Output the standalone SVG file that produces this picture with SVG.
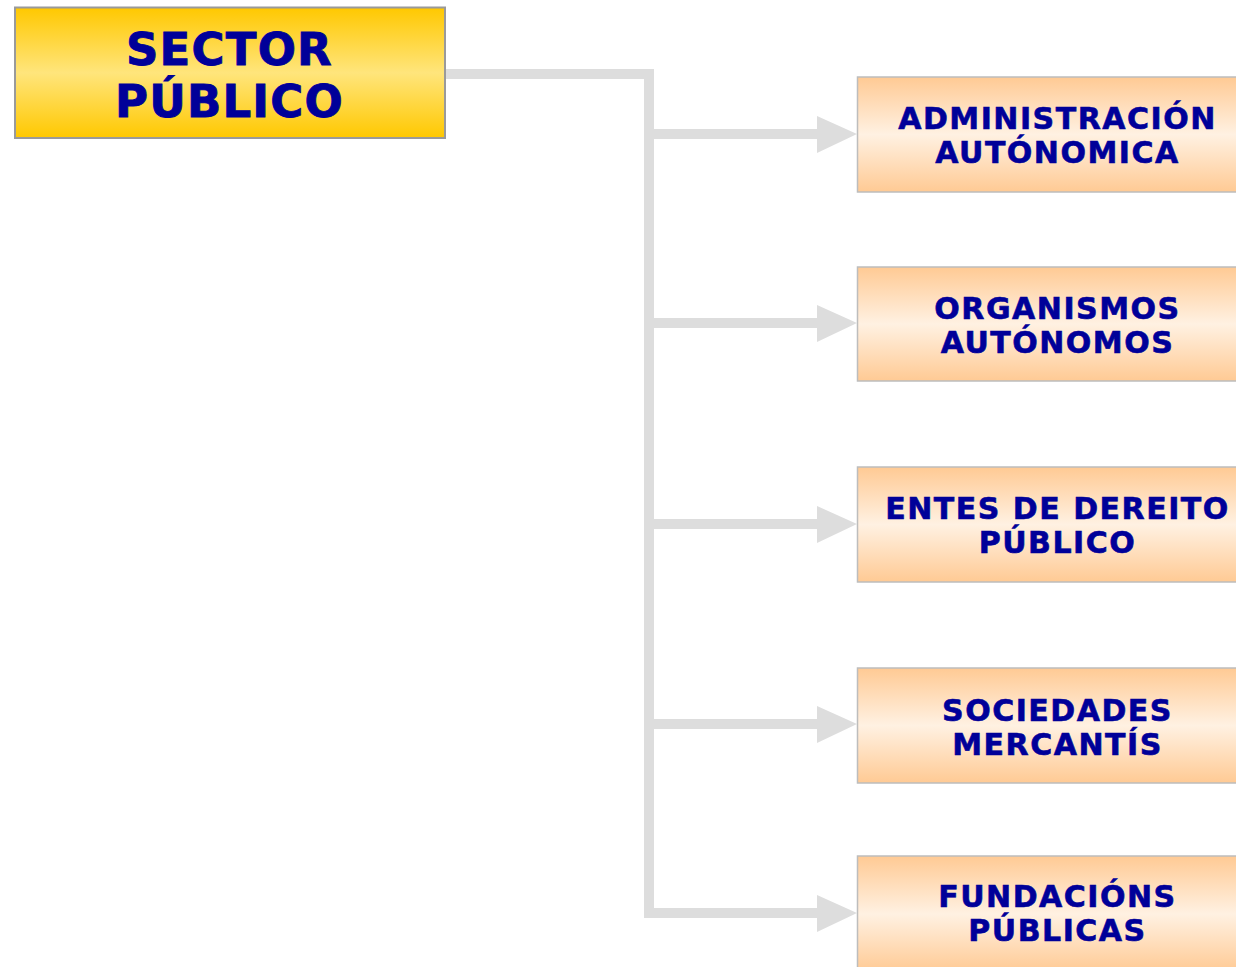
<svg xmlns="http://www.w3.org/2000/svg" width="1236" height="967" viewBox="0 0 1236 967">
  <style>
    .t { font-family: "DejaVu Sans", Verdana, sans-serif; font-weight: bold; fill: #000099; stroke: #000099; stroke-width: 0.6; text-anchor: middle; }
    .big { font-size: 45px; letter-spacing: 1.2px; stroke-width: 0.9; }
    .small { font-size: 30px; letter-spacing: 1.5px; }
    .node { stroke: #bdbdbd; stroke-width: 1.5; fill: url(#peach); }
    .conn { fill: none; stroke: #dddddd; stroke-width: 10; stroke-linejoin: miter; }
    .head { fill: #dddddd; }
  </style>
  <defs>
    <linearGradient id="gold" x1="0" y1="0" x2="0" y2="1">
      <stop offset="0" stop-color="#FFC800"/>
      <stop offset="0.5" stop-color="#FFE57C"/>
      <stop offset="1" stop-color="#FFC800"/>
    </linearGradient>
    <linearGradient id="peach" x1="0" y1="0" x2="0" y2="1">
      <stop offset="0" stop-color="#FFCA94"/>
      <stop offset="0.5" stop-color="#FFF1E2"/>
      <stop offset="1" stop-color="#FFCA94"/>
    </linearGradient>
  </defs>

  <g id="connectors">
    <path class="conn" d="M445 74 H649 V913 H818"/>
    <path class="conn" d="M649 134 H818"/>
    <path class="conn" d="M649 323 H818"/>
    <path class="conn" d="M649 524 H818"/>
    <path class="conn" d="M649 724 H818"/>
    <polygon class="head" points="817,116 857,134 817,153"/>
    <polygon class="head" points="817,305 857,323 817,342"/>
    <polygon class="head" points="817,506 857,524 817,543"/>
    <polygon class="head" points="817,706 857,724 817,743"/>
    <polygon class="head" points="817,895 857,913 817,932"/>
  </g>

  <g id="sector-publico">
    <rect x="15" y="7.5" width="430" height="130.5" fill="url(#gold)" stroke="#9a9a9a" stroke-width="2"/>
    <text class="t big" x="229.5" y="65">SECTOR</text>
    <text class="t big" x="229.5" y="117">PÚBLICO</text>
  </g>

  <g id="administracion-autonomica">
    <rect class="node" x="857.5" y="77" width="400" height="115"/>
    <text class="t small" x="1057.5" y="129">ADMINISTRACIÓN</text>
    <text class="t small" x="1057.5" y="163">AUTÓNOMICA</text>
  </g>

  <g id="organismos-autonomos">
    <rect class="node" x="857.5" y="267" width="400" height="114"/>
    <text class="t small" x="1057.5" y="319">ORGANISMOS</text>
    <text class="t small" x="1057.5" y="353">AUTÓNOMOS</text>
  </g>

  <g id="entes-dereito-publico">
    <rect class="node" x="857.5" y="467" width="400" height="115"/>
    <text class="t small" x="1057.5" y="519">ENTES DE DEREITO</text>
    <text class="t small" x="1057.5" y="553">PÚBLICO</text>
  </g>

  <g id="sociedades-mercantis">
    <rect class="node" x="857.5" y="668" width="400" height="115"/>
    <text class="t small" x="1057.5" y="721">SOCIEDADES</text>
    <text class="t small" x="1057.5" y="755">MERCANTÍS</text>
  </g>

  <g id="fundacions-publicas">
    <rect class="node" x="857.5" y="856" width="400" height="116"/>
    <text class="t small" x="1057.5" y="907">FUNDACIÓNS</text>
    <text class="t small" x="1057.5" y="941">PÚBLICAS</text>
  </g>
</svg>
